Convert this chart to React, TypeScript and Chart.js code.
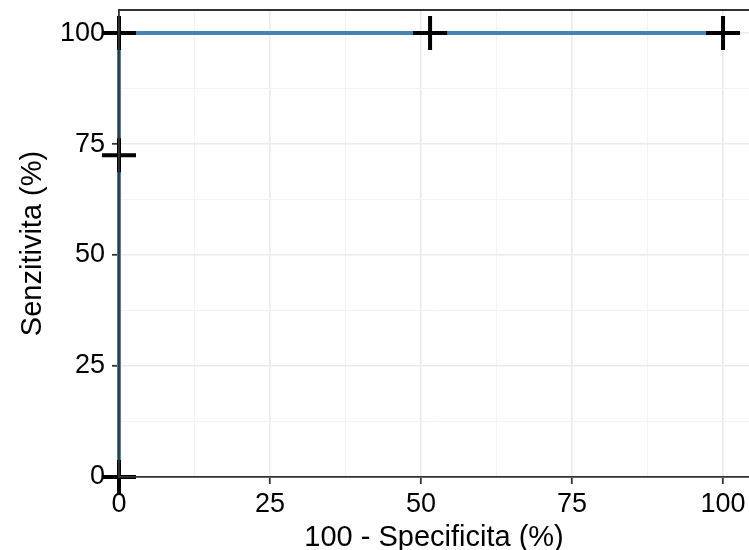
import React, { useEffect, useRef } from "react";
import { Chart, registerables } from "chart.js";

Chart.register(...registerables);

// Data
const specificityComplement: number[] = [0, 0, 0, 51.5, 100]; // 100 - Specificita (%)
const sensitivity: number[] = [0, 72.5, 100, 100, 100]; // Senzitivita (%)
const xTickValues: number[] = [0, 25, 50, 75, 100];
const yTickValues: number[] = [0, 25, 50, 75, 100];

const xTitle = "100 - Specificita (%)";
const yTitle = "Senzitivita (%)";

const FONT = "'Liberation Sans', Arial, sans-serif";

const topBorder = {
  id: "topBorder",
  afterDatasetsDraw(chart: any) {
    const { ctx, chartArea } = chart;
    ctx.save();
    ctx.strokeStyle = "#333333";
    ctx.lineWidth = 1.8;
    ctx.beginPath();
    ctx.moveTo(chartArea.left - 0.9, chartArea.top);
    ctx.lineTo(chartArea.right, chartArea.top);
    ctx.stroke();
    ctx.restore();
  },
};

export default function App() {
  const ref = useRef<HTMLCanvasElement | null>(null);

  useEffect(() => {
    if (!ref.current) return;
    const isMajor = (v: number, list: number[]) => list.some((t) => Math.abs(t - v) < 1e-6);
    const chart = new Chart(ref.current, {
      type: "line",
      data: {
        datasets: [
          {
            data: specificityComplement.map((x, i) => ({ x, y: sensitivity[i] })),
            borderColor: "#4682B4",
            borderWidth: 4,
            pointStyle: "cross",
            pointRadius: 17,
            pointBorderWidth: 4,
            pointBorderColor: "#000000",
            pointBackgroundColor: "#000000",
            tension: 0,
            clip: false as any,
          },
        ],
      },
      options: {
        animation: false,
        responsive: false,
        maintainAspectRatio: false,
        layout: { autoPadding: false, padding: { top: 10, right: 0, left: 0, bottom: 0 } },
        plugins: { legend: { display: false }, tooltip: { enabled: false } },
        scales: {
          x: {
            type: "linear",
            min: 0,
            max: 104.3,
            afterFit: (s: any) => {
              s.height = 73;
              s.paddingLeft = 0;
              s.paddingRight = 0;
            },
            ticks: {
              stepSize: 12.5,
              includeBounds: false,
              autoSkip: false,
              maxRotation: 0,
              padding: 4,
              color: "#000000",
              font: { family: FONT, size: 27 },
              callback: (v: any) => (isMajor(Number(v), xTickValues) ? String(v) : ""),
            },
            grid: {
              color: (c: any) => (c.tick && isMajor(c.tick.value, xTickValues) ? "#EBEBEB" : "#F3F3F3"),
              lineWidth: (c: any) => (c.tick && isMajor(c.tick.value, xTickValues) ? 1.6 : 1),
              tickColor: (c: any) => (c.tick && isMajor(c.tick.value, xTickValues) ? "#333333" : "rgba(0,0,0,0)"),
              tickWidth: 1.8,
              tickLength: 7,
            },
            border: { display: true, color: "#333333", width: 1.8, z: 1 },
            title: {
              display: true,
              text: xTitle,
              color: "#000000",
              font: { family: FONT, size: 29, lineHeight: 1 },
              padding: { top: 0, bottom: -2 },
            },
          },
          y: {
            type: "linear",
            min: 0,
            max: 105.2,
            afterFit: (s: any) => {
              s.width = 119;
              s.paddingTop = 0;
              s.paddingBottom = 0;
            },
            ticks: {
              stepSize: 12.5,
              includeBounds: false,
              autoSkip: false,
              padding: 7,
              color: "#000000",
              font: { family: FONT, size: 27 },
              callback: (v: any) => (isMajor(Number(v), yTickValues) ? String(v) : ""),
            },
            grid: {
              color: (c: any) => (c.tick && isMajor(c.tick.value, yTickValues) ? "#EBEBEB" : "#F3F3F3"),
              lineWidth: (c: any) => (c.tick && isMajor(c.tick.value, yTickValues) ? 1.6 : 1),
              tickColor: (c: any) => (c.tick && isMajor(c.tick.value, yTickValues) ? "#333333" : "rgba(0,0,0,0)"),
              tickWidth: 1.8,
              tickLength: 7,
            },
            border: { display: true, color: "#333333", width: 1.8, z: 1 },
            title: {
              display: true,
              text: yTitle,
              color: "#000000",
              font: { family: FONT, size: 29, lineHeight: 1 },
              padding: { top: 18.5, bottom: 0 },
            },
          },
        },
      },
      plugins: [topBorder],
    });
    return () => chart.destroy();
  }, []);

  return (
    <div style={{ position: "fixed", left: 0, top: 0, width: 749, height: 550, background: "#ffffff" }}>
      <canvas ref={ref} width={749} height={550} style={{ width: 749, height: 550, display: "block" }} />
    </div>
  );
}
